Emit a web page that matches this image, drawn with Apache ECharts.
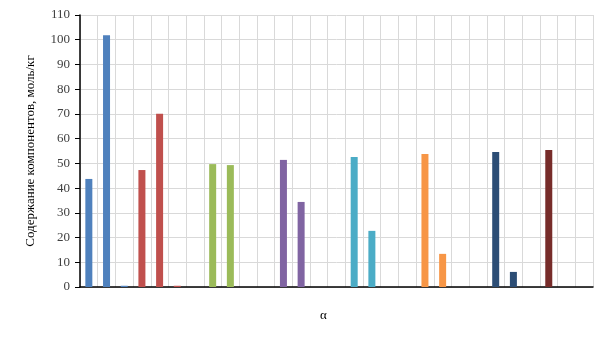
<!DOCTYPE html>
<html><head><meta charset="utf-8">
<script src="https://cdn.jsdelivr.net/npm/echarts@6/dist/echarts.min.js"></script>
<style>html,body{margin:0;padding:0;background:#fff}#c{width:605px;height:340px}</style>
</head><body><div id="c"></div>
<script>
// 29 category slots (Excel-style clustered layout with gaps)
const categories = Array.from({length: 29}, (_, i) => String(i + 1));
const values = [43.7, 101.8, 0.5, 47.3, 70.1, 0.5, null, 49.7, 49.3, null, null, 51.4, 34.4, null, null, 52.6, 22.7, null, null, 53.8, 13.4, null, null, 54.6, 6.1, null, 55.4, null, null];
const barColors = ['#4F81BD','#4F81BD','#4F81BD','#C0504D','#C0504D','#C0504D', null,'#9BBB59','#9BBB59', null, null,'#8064A2','#8064A2', null, null,'#4BACC6','#4BACC6', null, null,'#F79646','#F79646', null, null,'#2C4D75','#2C4D75', null,'#772C2A', null, null];
const yTicks = {min: 0, max: 110, interval: 10};
const yTitle = 'Содержание компонентов, моль/кг';
const xTitle = 'α';

const chart = echarts.init(document.getElementById('c'), null, {renderer: 'canvas'});
chart.setOption({
  animation: false,
  grid: {left: 80, right: 12, top: 15, bottom: 53, containLabel: false},
  xAxis: {
    type: 'category', data: categories, boundaryGap: true,
    name: xTitle, nameLocation: 'middle', nameGap: 22,
    nameTextStyle: {fontFamily: 'Liberation Serif', fontSize: 13, color: '#000', padding: [0, 26, 0, 0]},
    axisLine: {show: true, lineStyle: {color: '#000', width: 1.5}},
    axisTick: {show: false}, axisLabel: {show: false},
    splitLine: {show: true, lineStyle: {color: '#d9d9d9', width: 1}}
  },
  yAxis: {
    type: 'value', min: yTicks.min, max: yTicks.max, interval: yTicks.interval,
    name: yTitle, nameLocation: 'middle', nameGap: 43,
    nameTextStyle: {fontFamily: 'Liberation Serif', fontSize: 13, color: '#000'},
    axisLine: {show: true, lineStyle: {color: '#000', width: 1.5}},
    axisTick: {show: true, length: 5, lineStyle: {color: '#000'}},
    axisLabel: {fontFamily: 'Liberation Serif', fontSize: 13, color: '#404040', margin: 10},
    splitLine: {show: true, lineStyle: {color: '#d9d9d9', width: 1}}
  },
  series: [{
    type: 'bar', barWidth: 7,
    data: values.map((v, i) => ({value: v, itemStyle: {color: barColors[i] || '#000'}}))
  }]
});
</script></body></html>
